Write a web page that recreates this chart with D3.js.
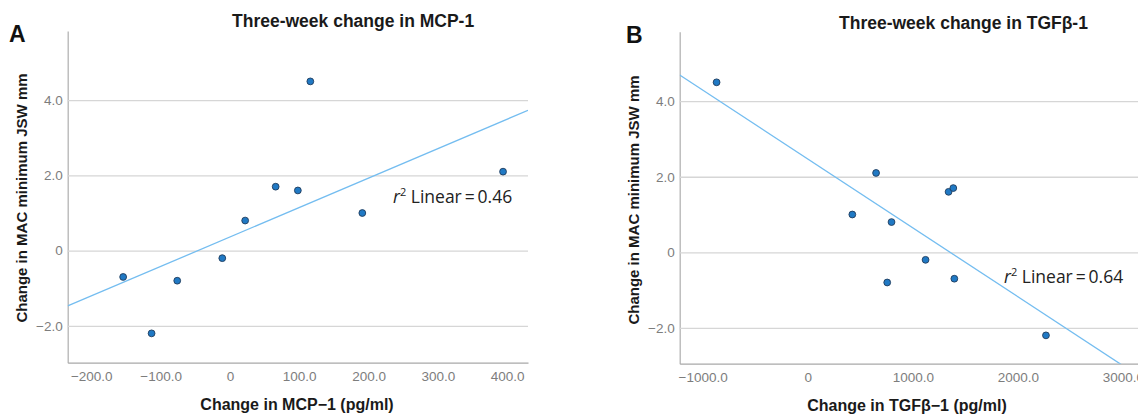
<!DOCTYPE html>
<html>
<head>
<meta charset="utf-8">
<script src="https://cdn.jsdelivr.net/npm/d3@7/dist/d3.min.js"></script>
<style>
  html, body { margin: 0; padding: 0; background: #fff; }
  svg { display: block; }
</style>
</head>
<body>
<svg id="chart" width="1138" height="414"></svg>
<script>
// ---- Data ----
const jswChange = [-0.7, -2.2, -0.8, -0.2, 0.8, 1.7, 1.6, 4.5, 1.0, 2.1];
const mcpChange = [-154, -113, -76, -11, 22, 66, 98, 116, 191, 394];
const tgfJswChange = [4.5, 1.0, 2.1, 0.8, -0.8, -0.2, 1.6, 1.7, -0.7, -2.2];
const tgfChange = [-868, 424, 650, 797, 756, 1121, 1340, 1385, 1395, 2267];
const r2Labels = ["0.46", "0.64"];

const yTicks = [-2, 0, 2, 4];
const yTickLabels = ["\u22122.0", "0", "2.0", "4.0"];
const xTicksA = [-200, -100, 0, 100, 200, 300, 400];
const xTickLabelsA = ["\u2212200.0", "\u2212100.0", "0", "100.0", "200.0", "300.0", "400.0"];
const xTicksB = [-1000, 0, 1000, 2000, 3000];
const xTickLabelsB = ["\u22121000.0", "0", "1000.0", "2000.0", "3000.0"];

const panels = [
  {
    letter: "A", title: "Three-week change in MCP-1",
    xTitle: "Change in MCP\u22121 (pg/ml)", yTitle: "Change in MAC minimum JSW mm",
    xs: mcpChange, ys: jswChange, xTicks: xTicksA, xTickLabels: xTickLabelsA,
    xDomain: [-234, 430], xRange: [67.7, 528],
    yDomain: [-2.98, 5.84], yRange: [362.7, 31],
    letterPos: [9, 41.5], titlePos: [232, 27], xTitlePos: [297, 410], yTitlePos: [22, 198],
    r2Pos: [393, 202.5]
  },
  {
    letter: "B", title: "Three-week change in TGF\u03b2-1",
    xTitle: "Change in TGF\u03b2\u22121 (pg/ml)", yTitle: "Change in MAC minimum JSW mm",
    xs: tgfChange, ys: tgfJswChange, xTicks: xTicksB, xTickLabels: xTickLabelsB,
    xDomain: [-1219, 3162], xRange: [679.7, 1140],
    yDomain: [-2.95, 5.84], yRange: [363.7, 31.7],
    letterPos: [626, 42.5], titlePos: [839, 28.5], xTitlePos: [907, 411], yTitlePos: [634, 200],
    r2Pos: [1004, 283]
  }
];

const svg = d3.select("#chart");
const baseFont = "'Liberation Sans', Arial, sans-serif";

function linreg(xs, ys) {
  const mx = d3.mean(xs), my = d3.mean(ys);
  let sxy = 0, sxx = 0;
  xs.forEach((v, i) => { sxy += (v - mx) * (ys[i] - my); sxx += (v - mx) ** 2; });
  const slope = sxy / sxx;
  return { slope, intercept: my - slope * mx };
}

panels.forEach((p, pi) => {
  const x = d3.scaleLinear().domain(p.xDomain).range(p.xRange);
  const y = d3.scaleLinear().domain(p.yDomain).range(p.yRange);
  const g = svg.append("g");
  const left = p.xRange[0], right = p.xRange[1];
  const top = p.yRange[1], bottom = p.yRange[0];

  // y axis with gridlines
  const yAxis = d3.axisLeft(y).tickValues(yTicks)
    .tickFormat((d, i) => yTickLabels[i])
    .tickSizeInner(-(right - left)).tickSizeOuter(0).tickPadding(5);
  const yg = g.append("g").attr("transform", `translate(${left},0)`).call(yAxis);
  yg.select(".domain").attr("stroke", "#b4b4b4").attr("stroke-width", 1.3);
  yg.selectAll(".tick line").attr("stroke", "#d6d6d6").attr("stroke-width", 1.3);
  yg.selectAll(".tick text").attr("fill", "#7d7d7d")
    .style("font-family", baseFont).style("font-size", "13.5px");

  // x axis
  const xAxis = d3.axisBottom(x).tickValues(p.xTicks)
    .tickFormat((d, i) => p.xTickLabels[i])
    .tickSize(0).tickPadding(9);
  const xg = g.append("g").attr("transform", `translate(0,${bottom})`).call(xAxis);
  xg.select(".domain").attr("stroke", "#a8a8a8").attr("stroke-width", 1.3);
  xg.selectAll(".tick text").attr("fill", "#7d7d7d")
    .style("font-family", baseFont).style("font-size", "13.5px");

  // regression line, clipped to the plot area
  const clipId = "clip" + pi;
  svg.append("clipPath").attr("id", clipId).append("rect")
    .attr("x", left).attr("y", top).attr("width", right - left).attr("height", bottom - top);
  const reg = linreg(p.xs, p.ys);
  const lineData = p.xDomain.map(v => [v, reg.intercept + reg.slope * v]);
  g.append("path").attr("clip-path", `url(#${clipId})`)
    .datum(lineData)
    .attr("d", d3.line().x(d => x(d[0])).y(d => y(d[1])))
    .attr("fill", "none").attr("stroke", "#74bdf0").attr("stroke-width", 1.3);

  // points
  g.selectAll("circle.pt").data(p.xs.map((v, i) => [v, p.ys[i]]))
    .join("circle").attr("class", "pt")
    .attr("cx", d => x(d[0])).attr("cy", d => y(d[1])).attr("r", 3.4)
    .attr("fill", "#2079c4").attr("stroke", "#203c5c").attr("stroke-width", 0.9);

  // r2 label
  const r2t = g.append("text").attr("x", p.r2Pos[0]).attr("y", p.r2Pos[1])
    .style("font-family", "'Open Sans', sans-serif").style("font-size", "17.5px").attr("fill", "#222");
  r2t.append("tspan").style("font-style", "italic").text("r");
  r2t.append("tspan").attr("dy", -7).style("font-size", "11px").text("2");
  r2t.append("tspan").attr("dy", 7).text(" Linear\u2009=\u2009" + r2Labels[pi]);

  // letter, title, axis titles
  g.append("text").attr("x", p.letterPos[0]).attr("y", p.letterPos[1])
    .style("font-family", baseFont).style("font-weight", "bold").style("font-size", "23px")
    .attr("fill", "#111").text(p.letter);
  g.append("text").attr("x", p.titlePos[0]).attr("y", p.titlePos[1])
    .style("font-family", baseFont).style("font-weight", "bold").style("font-size", "17.5px")
    .attr("fill", "#1a1a1a").text(p.title);
  g.append("text").attr("x", p.xTitlePos[0]).attr("y", p.xTitlePos[1])
    .attr("text-anchor", "middle")
    .style("font-family", baseFont).style("font-weight", "bold").style("font-size", "16px")
    .attr("fill", "#1a1a1a").text(p.xTitle);
  g.append("text").attr("transform", `translate(${p.yTitlePos[0]},${p.yTitlePos[1]}) rotate(-90)`)
    .attr("text-anchor", "middle").attr("dy", "0.35em")
    .style("font-family", baseFont).style("font-weight", "bold").style("font-size", "15px")
    .attr("fill", "#1a1a1a").text(p.yTitle);
});
</script>
</body>
</html>
